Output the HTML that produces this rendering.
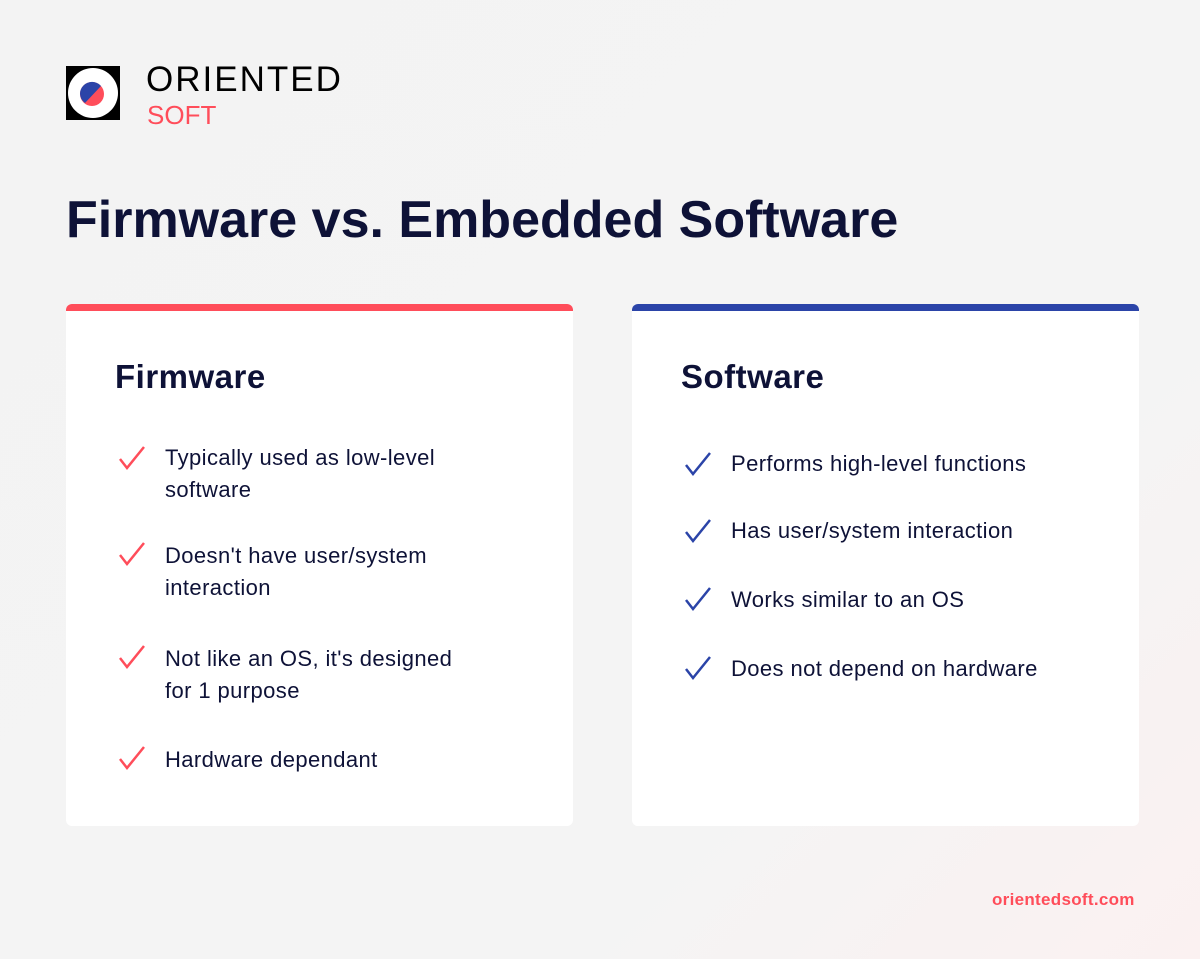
<!DOCTYPE html>
<html><head><style>
body{margin:0;width:1200px;height:959px;background:linear-gradient(135deg,#f3f3f3 0%,#f4f4f4 70%,#fbf1f1 100%);font-family:"Liberation Sans",sans-serif;position:relative;overflow:hidden;color:#0e1237}
.abs{position:absolute}
.card{position:absolute;top:304px;height:522px;width:507px;background:#fff;border-radius:6px;overflow:hidden}
.bar{height:7px}
h2{position:absolute;margin:0;font-size:33px;font-weight:bold;left:49px;top:54px;color:#0e1237;letter-spacing:0.5px}
.it{position:absolute;left:99px;font-size:22px;letter-spacing:0.4px;line-height:32px;color:#0e1237;white-space:nowrap}
.ck{position:absolute;left:52px}
</style></head><body>
<div class="abs" style="left:66px;top:66px;width:54px;height:54px;background:#000"></div>
<div class="abs" style="left:68px;top:68px;width:50px;height:50px;border-radius:50%;background:#fff"></div>
<svg class="abs" style="left:77px;top:79px" width="30" height="30" viewBox="0 0 30 30"><circle cx="15" cy="15" r="12" fill="#ff4d5a"/><path d="M3 15A12 12 0 0 1 24 7L8 24A12 12 0 0 1 3 15Z" fill="#2b44a8"/></svg>
<div class="abs" style="left:146px;top:60px;font-size:35px;letter-spacing:2px;color:#000">ORIENTED</div>
<div class="abs" style="left:147px;top:100px;font-size:26px;color:#ff4d5a">SOFT</div>
<div class="abs" style="left:66px;top:190px;font-size:52px;font-weight:bold;color:#0e1237">Firmware vs. Embedded Software</div>
<div class="card" style="left:66px"><div class="bar" style="background:#ff4d5a"></div>
<h2>Firmware</h2>
<svg class="ck" style="top:141px" width="28" height="26"><path d="M2 14L9 23L26 2" stroke="#ff4d5a" stroke-width="2.5" fill="none"/></svg>
<div class="it" style="top:138px">Typically used as low-level<br>software</div>
<svg class="ck" style="top:237px" width="28" height="26"><path d="M2 14L9 23L26 2" stroke="#ff4d5a" stroke-width="2.5" fill="none"/></svg>
<div class="it" style="top:236px">Doesn't have user/system<br>interaction</div>
<svg class="ck" style="top:340px" width="28" height="26"><path d="M2 14L9 23L26 2" stroke="#ff4d5a" stroke-width="2.5" fill="none"/></svg>
<div class="it" style="top:339px">Not like an OS, it's designed<br>for 1 purpose</div>
<svg class="ck" style="top:441px" width="28" height="26"><path d="M2 14L9 23L26 2" stroke="#ff4d5a" stroke-width="2.5" fill="none"/></svg>
<div class="it" style="top:440px">Hardware dependant</div>
</div>
<div class="card" style="left:632px"><div class="bar" style="background:#2b44a8"></div>
<h2>Software</h2>
<svg class="ck" style="top:147px" width="28" height="26"><path d="M2 14L9 23L26 2" stroke="#2b44a8" stroke-width="2.5" fill="none"/></svg>
<div class="it" style="top:144px">Performs high-level functions</div>
<svg class="ck" style="top:214px" width="28" height="26"><path d="M2 14L9 23L26 2" stroke="#2b44a8" stroke-width="2.5" fill="none"/></svg>
<div class="it" style="top:211px">Has user/system interaction</div>
<svg class="ck" style="top:282px" width="28" height="26"><path d="M2 14L9 23L26 2" stroke="#2b44a8" stroke-width="2.5" fill="none"/></svg>
<div class="it" style="top:280px">Works similar to an OS</div>
<svg class="ck" style="top:351px" width="28" height="26"><path d="M2 14L9 23L26 2" stroke="#2b44a8" stroke-width="2.5" fill="none"/></svg>
<div class="it" style="top:349px">Does not depend on hardware</div>
</div>
<div class="abs" style="left:992px;top:890px;font-size:17px;font-weight:bold;letter-spacing:0.3px;color:#ff4d5a">orientedsoft.com</div>
</body></html>
